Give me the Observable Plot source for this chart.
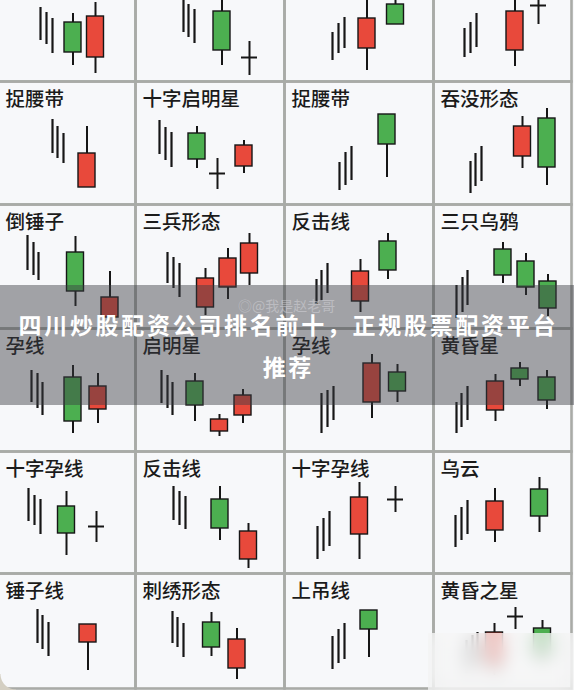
<!DOCTYPE html>
<html><head><meta charset="utf-8">
<script src="https://cdn.jsdelivr.net/npm/d3@7"></script>
<script src="https://cdn.jsdelivr.net/npm/@observablehq/plot@0.6"></script>
<style>
html,body{margin:0;padding:0;width:574px;height:690px;overflow:hidden;background:#f7f8fa;font-family:"Noto Sans CJK SC","Noto Sans",sans-serif;}
#grid{position:absolute;left:-2px;top:-43px;display:grid;grid-template-columns:137px 149px 149px 138px;grid-template-rows:124px 123px 124px 123px 122px 115px;}
#grid svg{display:block;overflow:visible}
#banner{position:absolute;left:0;top:285px;width:574px;height:120px;background:rgba(58,60,68,0.46);}
.bl{position:absolute;left:0;width:574px;text-align:center;color:#fff;font-weight:bold;font-size:23px;letter-spacing:2.7px;padding-left:2.7px;box-sizing:border-box;white-space:nowrap;}
#wm{position:absolute;left:238px;top:295px;color:rgba(215,215,220,0.5);font-size:14px;white-space:nowrap;}
#blur{position:absolute;left:428px;top:633px;width:146px;height:57px;background:rgba(246,246,246,0.7);backdrop-filter:blur(9px);-webkit-backdrop-filter:blur(9px);}
#corner{position:absolute;left:0;top:674px;width:16px;height:16px;background:radial-gradient(circle at 100% 0%, rgba(0,0,0,0) 15px, #d4cfc2 16px);}
</style></head>
<body>
<div id="grid"></div>
<div id="banner">
  <div class="bl" style="top:24px;line-height:30px;">四川炒股配资公司排名前十，正规股票配资平台</div>
  <div class="bl" style="top:66px;line-height:30px;">推荐</div>
</div>
<div id="wm">◎@我是赵老哥</div>
<div id="blur"></div>
<div id="corner"></div>
<script>
// Panel titles (row by row, 4 per row); the first row's titles are cut off above
const panelTitles = ["", "", "", "",
  "捉腰带", "十字启明星", "捉腰带", "吞没形态",
  "倒锤子", "三兵形态", "反击线", "三只乌鸦",
  "孕线", "启明星", "孕线", "黄昏星",
  "十字孕线", "反击线", "十字孕线", "乌云",
  "锤子线", "刺绣形态", "上吊线", "黄昏之星"];

// Prior trend strokes: [panel, t, low, high]
const trendStrokes = [
  [0,42,41,74],[0,48,37,69],[0,54,28,63],
  [1,48,49,88],[1,53,44,77],[1,59,38,72],
  [2,48,21,49],[2,54,28,58],[2,60,33,64],
  [3,31,24,53],[3,37,28,59],[3,43,34,68],
  [4,54,51,85],[4,59,46,78],[4,65,41,71],
  [5,24,50,84],[5,30,44,77],[5,36,37,72],
  [6,55,14,42],[6,61,19,52],[6,67,24,58],
  [7,37,11,43],[7,42,18,51],[7,48,23,58],
  [8,29,58,93],[8,35,53,86],[8,40,48,76],
  [9,32,45,76],[9,38,40,71],[9,44,31,65],
  [10,32,24,49],[10,37,28,58],[10,43,35,65],
  [11,23,10,43],[11,29,16,51],[11,34,23,58],
  [12,33,49,81],[12,39,43,78],[12,44,36,69],
  [13,26,48,81],[13,32,43,76],[13,37,36,69],
  [14,37,18,58],[14,43,24,61],[14,49,31,65],
  [15,23,18,49],[15,28,24,58],[15,34,31,65],
  [16,30,52,85],[16,36,48,78],[16,42,39,74],
  [17,38,53,87],[17,44,48,82],[17,50,44,77],
  [18,33,14,47],[18,39,22,55],[18,45,27,62],
  [19,22,26,58],[19,28,33,66],[19,34,39,73],
  [20,39,45,79],[20,44,39,73],[20,50,32,66],
  [21,37,45,77],[21,42,41,71],[21,48,31,65],
  [22,48,19,52],[22,54,25,59],[22,60,29,65],
  [23,33,15,48],[23,39,21,53],[23,44,25,56]
];

// Candles: [panel, t, open, close, low, high]  (open == close is a doji cross)
const candleRows = [
  [0,74.5,59,29,16,68],[0,97,24,65,8,79],
  [1,86.5,70,31,16,90],[1,114,24,24,6,40],
  [2,82.5,33,63,11,92],[2,111,77,57,57,92],
  [3,81.5,31,70,15,88],[3,105,76,76,57,88],
  [4,88.5,17,51,17,78],
  [5,61.5,71,45,36,78],[5,82,31,31,15,46],[5,108.5,38,59,31,64],
  [6,102.5,90,60,27,90],
  [7,89,48,78,36,88],[7,113.5,86,37,19,96],
  [8,77,76,37,22,92],[8,111.5,11,31,11,57],
  [9,70,21,50,13,60],[9,92.5,41,70,29,80],[9,114,55,85,43,95],
  [10,76,27,57,16,69],[10,103.5,87,58,49,95],
  [11,69.5,79,53,45,86],[11,92.5,67,41,33,75],[11,114.5,47,20,12,54],
  [12,74.5,74,30,18,86],[12,99.5,42,65,28,78],
  [13,59.5,70,46,30,78],[13,84,20,32,15,37],[13,107.5,36,56,28,62],
  [14,87.5,49,88,33,97],[14,113,79,60,49,87],
  [15,62,41,70,30,77],[15,86.5,83,72,65,89],[15,113.5,74,51,42,81],
  [16,68,67,40,18,82],[16,98,47,47,31,62],
  [17,84.5,74,45,33,87],[17,113,14,42,5,50],
  [18,75,39,76,14,91],[18,111,74,74,61,87],
  [19,61.5,43,72,31,85],[19,106,84,57,41,96],
  [20,89.5,46,64,18,64],
  [21,76,66,41,32,76],[21,101.5,20,49,9,60],
  [22,84.5,78,59,31,78],
  [23,61,23,56,13,65],[23,82,72,72,59,81],[23,109,60,33,23,68]
];

const colWidths = [137, 149, 149, 138];
const rowHeights = [124, 123, 124, 123, 122, 115];

const RED = "#e8493b", GREEN = "#4caf50", INK = "#161616", GRID = "#a9aba7";
const HALF_BODY = 8.5, HALF_CROSS = 8;

const trend = trendStrokes.map(([panel, t, low, high]) => ({panel, t, low, high}));
const candles = candleRows.map(([panel, t, open, close, low, high]) => ({panel, t, open, close, low, high}));

const grid = document.getElementById("grid");
panelTitles.forEach((title, p) => {
  const row = Math.floor(p / 4), col = p % 4;
  const W = colWidths[col], H = rowHeights[row];
  const tr = trend.filter(d => d.panel === p);
  const cs = candles.filter(d => d.panel === p);
  const bodies = cs.filter(d => d.open !== d.close);
  const crosses = cs.filter(d => d.open === d.close);
  const chart = Plot.plot({
    width: W, height: H, margin: 0,
    x: {domain: [0, W], axis: null},
    y: {domain: [0, H], axis: null},
    color: {type: "identity"},
    style: {background: "transparent", overflow: "visible", fontFamily: "'Noto Sans CJK SC', sans-serif"},
    marks: [
      Plot.frame({stroke: GRID, strokeWidth: 2.6}),
      Plot.text(title ? [title] : [], {text: d => d, frameAnchor: "top-left", dx: 7, dy: 18, lineAnchor: "middle", textAnchor: "start", fontSize: 19.5, fontWeight: 500, fill: "#1b1b1b"}),
      Plot.ruleX(tr, {x: "t", y1: "low", y2: "high", stroke: INK, strokeWidth: 2.2}),
      Plot.ruleX(cs, {x: "t", y1: "low", y2: "high", stroke: INK, strokeWidth: 2}),
      Plot.ruleY(crosses, {y: "open", x1: d => d.t - HALF_CROSS, x2: d => d.t + HALF_CROSS, stroke: INK, strokeWidth: 2}),
      Plot.rect(bodies, {x1: d => d.t - HALF_BODY, x2: d => d.t + HALF_BODY, y1: "open", y2: "close",
        fill: d => d.close > d.open ? RED : GREEN, stroke: INK, strokeWidth: 1.4})
    ]
  });
  grid.appendChild(chart);
});
</script>
</body></html>
